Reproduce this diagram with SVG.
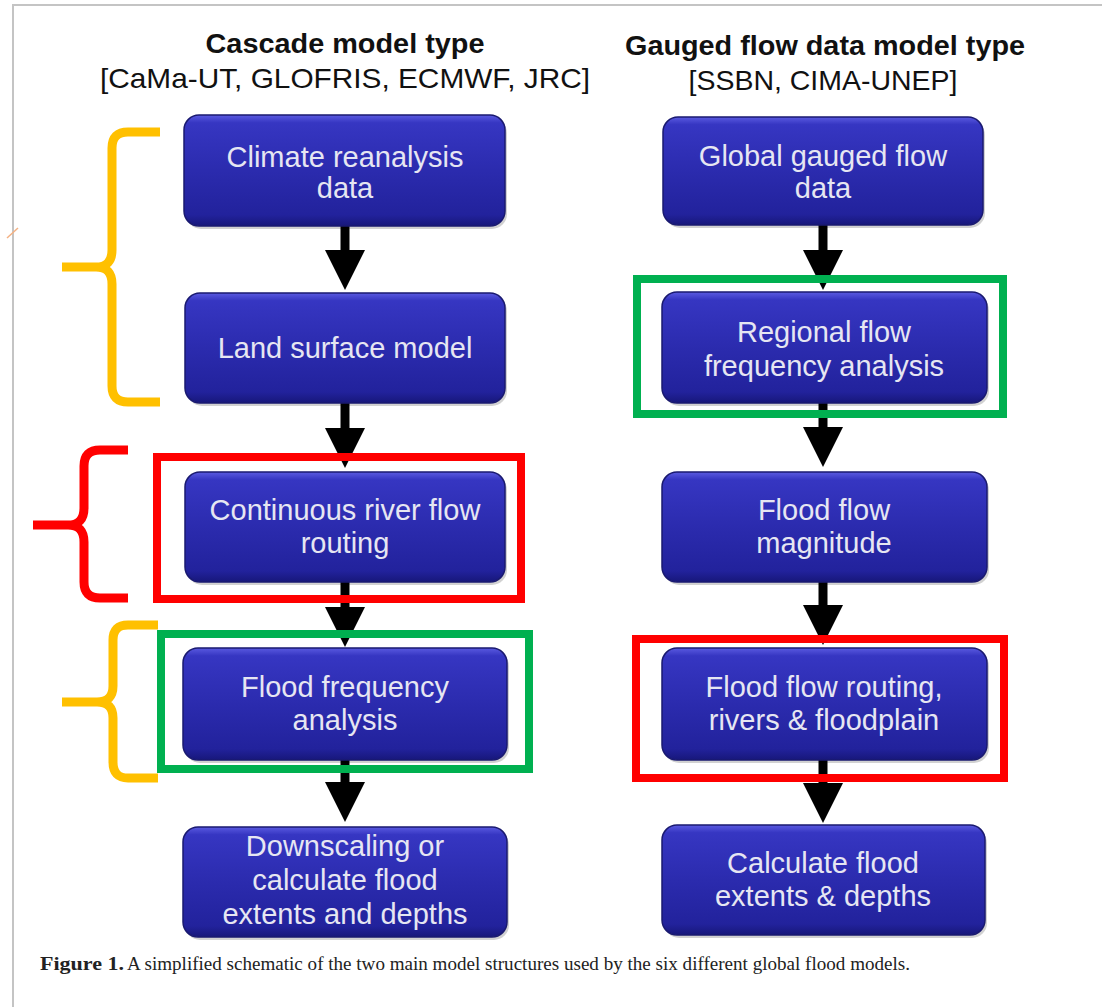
<svg xmlns="http://www.w3.org/2000/svg" width="1102" height="1007" viewBox="0 0 1102 1007">
<defs>
<linearGradient id="nodeFill" x1="0" y1="0" x2="0" y2="1">
<stop offset="0" stop-color="#5a5ae0"/>
<stop offset="0.07" stop-color="#3636c2"/>
<stop offset="0.5" stop-color="#2b2bae"/>
<stop offset="0.9" stop-color="#22229c"/>
<stop offset="1" stop-color="#17177a"/>
</linearGradient>
<marker id="head" markerUnits="userSpaceOnUse" markerWidth="40" markerHeight="40" viewBox="0 0 40 40" refX="20" refY="20" orient="auto">
<path d="M0,0 L40,20 L0,40 Z" fill="#000"/>
</marker>
<style>
.node rect.box{fill:url(#nodeFill);stroke:#1a1a70;stroke-width:1.5}
.node rect.sh{fill:#000;opacity:0.18}
.node text{font-family:"Liberation Sans",Arial,sans-serif;font-size:29px;fill:#e6e6f2;text-anchor:middle}
.hdr{font-family:"Liberation Sans",Arial,sans-serif;font-size:28px;fill:#111;text-anchor:middle}
.hdr.b{font-weight:bold}
.conn line{stroke:#000;stroke-width:9;marker-end:url(#head)}
.hl{fill:none;stroke-width:8}
.red{stroke:#ff0000}
.green{stroke:#00b050}
.brace{fill:none;stroke-width:9;stroke-linejoin:round}
.orange{stroke:#ffc000}
.cap{font-family:"Liberation Serif","Times New Roman",serif;font-size:18px;fill:#222}
</style>
</defs>
<rect x="0" y="0" width="1102" height="1007" fill="#fff"/>
<!-- frame -->
<path d="M13,1007 V5 H1102" fill="none" stroke="#c4c4c4" stroke-width="2"/>
<line x1="7" y1="238" x2="18" y2="228" stroke="#f4b183" stroke-width="1.5"/>

<!-- headers -->
<text class="hdr b" x="345" y="53" textLength="279" lengthAdjust="spacingAndGlyphs">Cascade model type</text>
<text class="hdr" x="345" y="88" textLength="490" lengthAdjust="spacingAndGlyphs">[CaMa-UT, GLOFRIS, ECMWF, JRC]</text>
<text class="hdr b" x="825" y="55" textLength="400" lengthAdjust="spacingAndGlyphs">Gauged flow data model type</text>
<text class="hdr" x="823" y="90" textLength="269" lengthAdjust="spacingAndGlyphs">[SSBN, CIMA-UNEP]</text>

<!-- connectors -->
<g id="connectors" class="conn">
<line x1="345" y1="226" x2="345" y2="270"/>
<line x1="345" y1="403" x2="345" y2="448"/>
<line x1="345" y1="582" x2="345" y2="627"/>
<line x1="345" y1="760" x2="345" y2="802"/>
<line x1="823" y1="225" x2="823" y2="270"/>
<line x1="823" y1="403" x2="823" y2="447"/>
<line x1="823" y1="582" x2="823" y2="625"/>
<line x1="823" y1="760" x2="823" y2="803"/>
</g>

<!-- left column nodes -->
<g id="n-climate" class="node">
<rect class="sh" x="186" y="118" width="321" height="111" rx="15"/>
<rect class="box" x="184" y="115" width="321" height="111" rx="15"/>
<text x="345" y="167">Climate reanalysis</text>
<text x="345" y="198">data</text>
</g>
<g id="n-land" class="node">
<rect class="sh" x="187" y="296" width="320" height="110" rx="15"/>
<rect class="box" x="185" y="293" width="320" height="110" rx="15"/>
<text x="345" y="358">Land surface model</text>
</g>
<g id="n-routing" class="node">
<rect class="sh" x="187" y="475" width="320" height="110" rx="15"/>
<rect class="box" x="185" y="472" width="320" height="110" rx="15"/>
<text x="345" y="520">Continuous river flow</text>
<text x="345" y="553">routing</text>
</g>
<g id="n-freq" class="node">
<rect class="sh" x="185" y="651" width="324" height="112" rx="15"/>
<rect class="box" x="183" y="648" width="324" height="112" rx="15"/>
<text x="345" y="697">Flood frequency</text>
<text x="345" y="730">analysis</text>
</g>
<g id="n-downscale" class="node">
<rect class="sh" x="185" y="830" width="324" height="110" rx="15"/>
<rect class="box" x="183" y="827" width="324" height="110" rx="15"/>
<text x="345" y="856">Downscaling or</text>
<text x="345" y="890">calculate flood</text>
<text x="345" y="924">extents and depths</text>
</g>

<!-- right column nodes -->
<g id="n-gauged" class="node">
<rect class="sh" x="665" y="120" width="320" height="108" rx="15"/>
<rect class="box" x="663" y="117" width="320" height="108" rx="15"/>
<text x="823" y="166">Global gauged flow</text>
<text x="823" y="198">data</text>
</g>
<g id="n-regional" class="node">
<rect class="sh" x="664" y="295" width="325" height="111" rx="15"/>
<rect class="box" x="662" y="292" width="325" height="111" rx="15"/>
<text x="824" y="342">Regional flow</text>
<text x="824" y="376">frequency analysis</text>
</g>
<g id="n-magnitude" class="node">
<rect class="sh" x="664" y="475" width="325" height="110" rx="15"/>
<rect class="box" x="662" y="472" width="325" height="110" rx="15"/>
<text x="824" y="520">Flood flow</text>
<text x="824" y="553">magnitude</text>
</g>
<g id="n-floodrouting" class="node">
<rect class="sh" x="664" y="651" width="325" height="112" rx="15"/>
<rect class="box" x="662" y="648" width="325" height="112" rx="15"/>
<text x="824" y="697">Flood flow routing,</text>
<text x="824" y="730">rivers &amp; floodplain</text>
</g>
<g id="n-extents" class="node">
<rect class="sh" x="664" y="828" width="323" height="110" rx="15"/>
<rect class="box" x="662" y="825" width="323" height="110" rx="15"/>
<text x="823" y="873">Calculate flood</text>
<text x="823" y="906">extents &amp; depths</text>
</g>

<!-- highlight boxes -->
<rect class="hl red" x="157" y="457" width="364" height="142"/>
<rect class="hl green" x="161" y="634" width="368" height="135"/>
<rect class="hl green" x="637" y="279" width="366" height="135"/>
<rect class="hl red" x="636" y="639" width="368" height="139"/>

<!-- braces -->
<path class="brace orange" d="M160,132 H128 Q112,132 112,148 V250 Q112,267 96,267 H62 M96,267 Q112,267 112,284 V386 Q112,402 128,402 H160"/>
<path class="brace red" d="M128,450 H100 Q84,450 84,466 V508 Q84,525 68,525 H33 M68,525 Q84,525 84,542 V582 Q84,598 100,598 H128"/>
<path class="brace orange" d="M158,625 H128 Q113,625 113,640 V686 Q113,702 97,702 H62 M97,702 Q113,702 113,718 V762 Q113,778 128,778 H158"/>

<!-- caption -->
<text class="cap" x="40" y="970" font-weight="bold" textLength="84" lengthAdjust="spacingAndGlyphs">Figure 1.</text>
<text class="cap" x="127" y="970" textLength="783" lengthAdjust="spacingAndGlyphs">A simplified schematic of the two main model structures used by the six different global flood models.</text>
</svg>
